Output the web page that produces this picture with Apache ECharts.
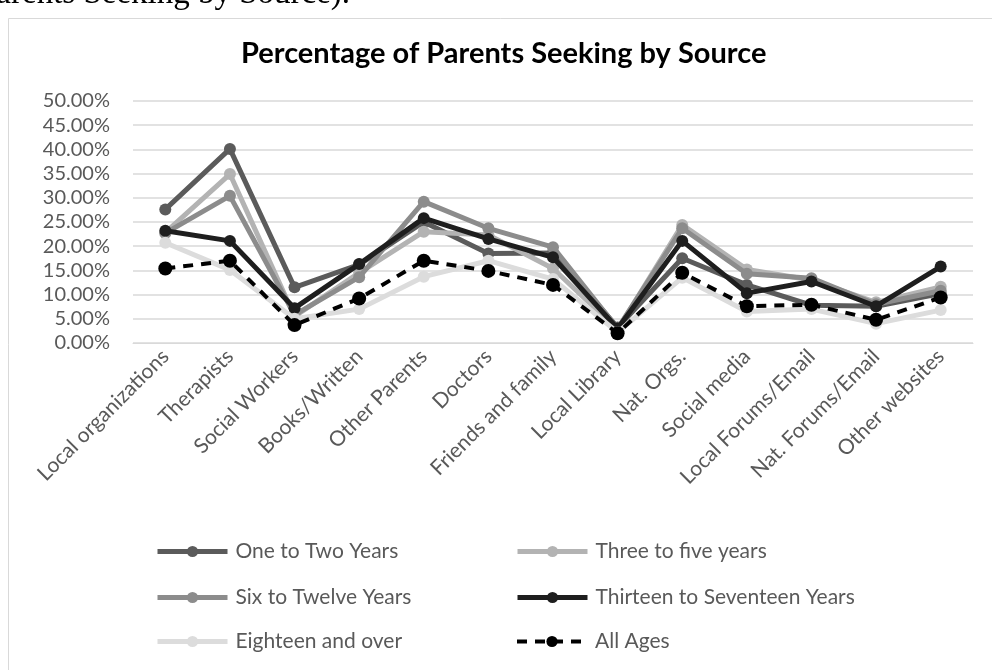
<!DOCTYPE html>
<html><head><meta charset="utf-8">
<script src="https://cdn.jsdelivr.net/npm/echarts@6/dist/echarts.min.js"></script>
<style>html,body{margin:0;padding:0;background:#fff}#c{width:992px;height:670px}</style>
</head><body><div id="c"></div>
<script>
var categories = ['Local organizations','Therapists','Social Workers','Books/Written','Other Parents','Doctors','Friends and family','Local Library','Nat. Orgs.','Social media','Local Forums/Email','Nat. Forums/Email','Other websites'];
var oneToTwo     = [27.6, 40.1, 11.5, 16.2, 25.0, 18.5, 18.6, 3.2, 17.5, 12.0, 7.8, 7.6, 10.2];
var threeToFive  = [22.8, 34.9, 5.5, 14.5, 23.0, 22.3, 15.4, 2.8, 24.4, 15.2, 13.0, 8.4, 11.6];
var sixToTwelve  = [22.7, 30.4, 5.8, 13.6, 29.2, 23.7, 19.8, 3.0, 23.7, 14.3, 13.4, 8.0, 10.8];
var thirteenTo17 = [23.2, 21.1, 7.2, 16.3, 25.8, 21.5, 17.7, 3.0, 21.1, 10.3, 12.7, 7.6, 15.8];
var eighteenUp   = [20.7, 15.1, 5.0, 7.0, 13.7, 17.0, 13.2, 2.2, 13.5, 6.5, 7.0, 4.0, 6.8];
var allAges      = [15.4, 17.0, 3.7, 9.2, 17.0, 14.9, 12.0, 2.0, 14.5, 7.6, 7.9, 4.8, 9.4];
var seriesNames  = ['One to Two Years','Three to five years','Six to Twelve Years','Thirteen to Seventeen Years','Eighteen and over','All Ages'];
var yTicks = {min: 0, max: 50, interval: 5};

var FONT = 'Lato';
var colors = ['#5b5b5b','#b3b3b3','#8c8c8c','#1e1e1e','#dcdcdc','#000000'];
var dataSets = [oneToTwo, threeToFive, sixToTwelve, thirteenTo17, eighteenUp, allAges];

var series = seriesNames.map(function(n,i){
  var dashed = i === 5;
  return {
    name: n, type: 'line', data: dataSets[i],
    symbol: 'circle', symbolSize: dashed ? 14 : 12,
    lineStyle: {color: colors[i], width: dashed ? 4 : 5, type: dashed ? [10,8] : 'solid'},
    itemStyle: {color: colors[i]},
    emphasis: {disabled: true}, animation: false, z: 2 + i
  };
});

var legendPos = [[155,541],[515,541],[155,587],[515,587],[155,631],[515,631]];
var legends = seriesNames.map(function(n,i){
  var dashed = i === 5;
  return {data:[n], left: legendPos[i][0], top: legendPos[i][1], itemWidth: 70, itemHeight: 14, itemGap: 0, padding: 0,
    lineStyle: {width: dashed ? 4 : 5, type: dashed ? [10,8] : 'solid'},
    textStyle: {fontFamily: FONT, fontSize: 21, color: '#595959', padding: [0,0,0,3]}, selectedMode: false};
});

var chart = echarts.init(document.getElementById('c'), null, {renderer: 'canvas'});
chart.setOption({
  backgroundColor: '#fff',
  animation: false,
  title: {text: 'Percentage of Parents Seeking by Source', left: 236, top: 34,
    textStyle: {fontFamily: FONT, fontSize: 29, fontWeight: 'bold', color: '#000'}},
  graphic: [
    {type: 'rect', shape: {x: 8.5, y: 18.5, width: 1000, height: 700}, style: {fill: 'none', stroke: '#d9d9d9', lineWidth: 1}, z: -1},
    {type: 'text', left: -22, top: -22, style: {text: 'Parents Seeking by Source).', font: '33px "Liberation Serif"', fill: '#000'}}
  ],
  legend: legends,
  grid: {left: 133, right: 19, top: 101, bottom: 327, containLabel: false},
  xAxis: {type: 'category', data: categories, boundaryGap: true,
    axisLine: {show: true, lineStyle: {color: '#d9d9d9', width: 1}},
    axisTick: {show: false},
    axisLabel: {rotate: 45, interval: 0, fontFamily: FONT, fontSize: 21, color: '#595959', margin: 10}},
  yAxis: {type: 'value', min: yTicks.min, max: yTicks.max, interval: yTicks.interval,
    axisLine: {show: false}, axisTick: {show: false},
    splitLine: {lineStyle: {color: '#d9d9d9', width: 1.5}},
    axisLabel: {fontFamily: FONT, fontSize: 20, color: '#595959', margin: 23,
      formatter: function(v){ return v.toFixed(2) + '%'; }}},
  series: series
});
</script>
</body></html>
